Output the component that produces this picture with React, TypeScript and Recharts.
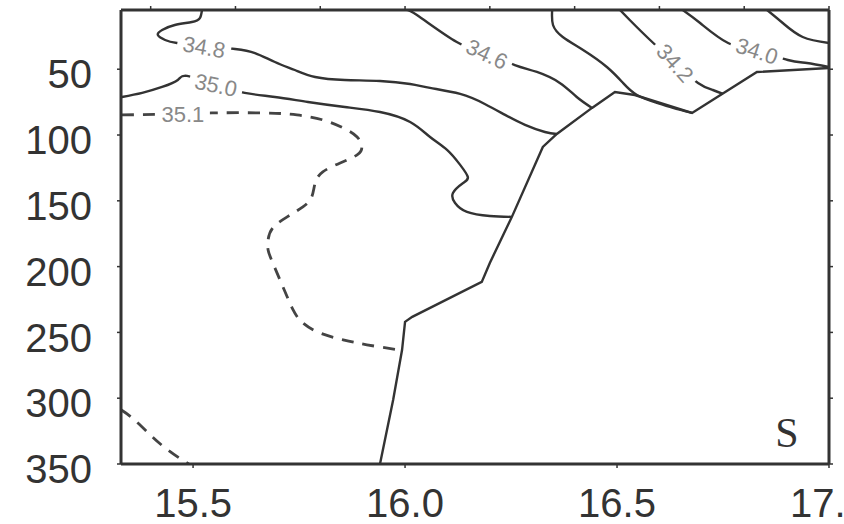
import React from "react";
import { ComposedChart, Line, Scatter, XAxis, YAxis, ReferenceDot } from "recharts";

const X_DOMAIN = [15.33, 17.0];
const DEPTH_DOMAIN = [5, 350];
const BOTTOM_TICKS = [15.5, 16.0, 16.5, 17.0];
const TOP_TICKS = [15.4, 15.6, 15.8, 16.0, 16.2, 16.4, 16.6, 16.8, 17.0];
const DEPTH_TICKS = [50, 100, 150, 200, 250, 300, 350];

// contour lines, [longitude, depth]
const S338: [number, number][] = [
  [16.854, 5], [16.891, 14.9], [16.938, 25.5], [17.0, 30.1],
];
const S340: [number, number][] = [
  [16.655, 5], [16.696, 14.9], [16.762, 30.1], [16.83, 36.1], [16.903, 43.0], [16.948, 45.3], [17.0, 48.3],
];
const S342: [number, number][] = [
  [16.507, 5], [16.53, 12.6], [16.578, 27.8], [16.637, 45.3], [16.691, 60.4], [16.726, 65.8], [16.75, 68.8],
];
const S344: [number, number][] = [
  [16.347, 5], [16.349, 16.4], [16.372, 25.5], [16.42, 35.4], [16.476, 48.3], [16.514, 60.4],
  [16.547, 69.6], [16.594, 75.6], [16.632, 79.4], [16.677, 83.2],
];
const S346: [number, number][] = [
  [16.0, 5], [16.028, 8.8], [16.122, 29.3], [16.193, 38.4], [16.259, 46.8], [16.311, 52.1],
  [16.365, 60.4], [16.405, 71.1], [16.441, 79.4],
];
const S348: [number, number][] = [
  [15.521, 5], [15.516, 11.1], [15.497, 14.1], [15.457, 16.4], [15.427, 20.2], [15.417, 24.0],
  [15.434, 27.8], [15.462, 30.1], [15.528, 32.3], [15.599, 34.6], [15.646, 37.7], [15.693, 44.5],
  [15.74, 50.6], [15.788, 55.9], [15.858, 58.2], [15.941, 58.9], [16.012, 61.2], [16.059, 64.2],
  [16.13, 68.8], [16.188, 76.4], [16.236, 84.7], [16.283, 92.3], [16.33, 97.7], [16.358, 99.2],
];
const S350: [number, number][] = [
  [15.332, 71.1], [15.38, 68.0], [15.427, 63.5], [15.464, 58.2], [15.486, 55.1], [15.554, 62.0],
  [15.622, 68.0], [15.693, 71.1], [15.771, 74.9], [15.858, 78.7], [15.941, 82.5], [16.012, 90.1],
  [16.059, 101.5], [16.099, 111.3], [16.13, 122.7], [16.148, 131.8], [16.137, 136.4], [16.113, 144.0],
  [16.118, 151.6], [16.146, 158.4], [16.2, 161.5], [16.252, 162.2],
];
const S351: [number, number][] = [
  [15.332, 84.7], [15.476, 84.0], [15.545, 83.2], [15.665, 83.2], [15.745, 84.7], [15.806, 88.5],
  [15.854, 94.6], [15.887, 101.5], [15.898, 109.1], [15.887, 115.1], [15.847, 121.2], [15.806, 128.0],
  [15.788, 136.4], [15.78, 147.0], [15.759, 154.6], [15.722, 162.2], [15.688, 170.6], [15.677, 179.7],
  [15.677, 187.3], [15.688, 197.2], [15.712, 215.4], [15.736, 232.9], [15.759, 242.8], [15.799, 250.4],
  [15.854, 255.6], [15.91, 259.4], [15.983, 263.2],
];
const S351_DEEP: [number, number][] = [
  [15.33, 308.8], [15.356, 314.9], [15.394, 326.3], [15.434, 337.7], [15.481, 348.3], [15.493, 349.8],
];
// edge of the data (bottom / shelf)
const BOUNDARY: [number, number][] = [
  [15.941, 349.8], [15.972, 301.2], [15.993, 263.2], [16.0, 242.0], [16.017, 238.2], [16.181, 211.6],
  [16.2, 197.2], [16.252, 162.2], [16.325, 109.1], [16.358, 99.2], [16.441, 79.4], [16.495, 67.3],
  [16.542, 69.6], [16.677, 83.2], [16.83, 52.1], [17.0, 49.1],
];

const LABELS = [
  { text: "34.8", x: 15.526, d: 33.1 },
  { text: "35.0", x: 15.554, d: 62.0 },
  { text: "35.1", x: 15.476, d: 84.0 },
  { text: "34.6", x: 16.193, d: 38.4 },
  { text: "34.2", x: 16.637, d: 45.3 },
  { text: "34.0", x: 16.83, d: 36.1 },
];
const LABEL_TILT: Record<string, number> = {
  "34.8": 10, "35.0": 12, "35.1": 0, "34.6": 25, "34.2": 48, "34.0": 18,
};

const toPts = (arr: [number, number][]) => arr.map(([x, d]) => ({ x, d }));

const FONT = "'Liberation Sans', Arial, sans-serif";
const INK = "#333";

const DepthTick = (props: any) => {
  const { x, y, payload } = props;
  return (
    <text x={x} y={y + 5} dy="0.355em" textAnchor="end" fontSize={40} fill={INK} fontFamily={FONT}>
      {payload.value}
    </text>
  );
};

const ContourLabel = (props: any) => {
  const { cx, cy, payload } = props;
  const tilt = LABEL_TILT[payload.text] || 0;
  return (
    <g transform={`rotate(${tilt} ${cx} ${cy})`}>
      <rect x={cx - 27} y={cy - 10} width={54} height={20} fill="#fff" />
      <text x={cx} y={cy} dy="0.355em" textAnchor="middle" fontSize={22} fill="#888" fontFamily={FONT}>
        {payload.text}
      </text>
    </g>
  );
};

const solid = [S338, S340, S342, S344, S346, S348, S350];

export default function App() {
  return (
    <div style={{ position: "absolute", left: 0, top: 0, background: "#fff" }}>
      <ComposedChart width={844} height={524} margin={{ top: 9, right: 0, bottom: 0, left: 0 }}>
        <XAxis
          xAxisId="b"
          dataKey="x"
          type="number"
          domain={X_DOMAIN}
          ticks={BOTTOM_TICKS}
          interval={0}
          height={60}
          tickSize={4}
          tickMargin={21}
          tickFormatter={(v: number) => v.toFixed(1)}
          tick={{ fontSize: 40, fill: INK, fontFamily: FONT }}
          axisLine={{ stroke: INK, strokeWidth: 3 }}
          tickLine={{ stroke: INK, strokeWidth: 1.5 }}
          allowDataOverflow
        />
        <XAxis
          xAxisId="t"
          orientation="top"
          dataKey="x"
          type="number"
          domain={X_DOMAIN}
          ticks={TOP_TICKS}
          interval={0}
          height={1}
          tickSize={4}
          tick={() => <g />}
          axisLine={{ stroke: INK, strokeWidth: 3 }}
          tickLine={{ stroke: INK, strokeWidth: 1.5 }}
          allowDataOverflow
        />
        <YAxis
          yAxisId="l"
          dataKey="d"
          type="number"
          domain={DEPTH_DOMAIN}
          reversed
          ticks={DEPTH_TICKS}
          interval={0}
          width={121}
          tickSize={4}
          tickMargin={25}
          tick={<DepthTick />}
          axisLine={{ stroke: INK, strokeWidth: 3 }}
          tickLine={{ stroke: INK, strokeWidth: 1.5 }}
          allowDataOverflow
        />
        <YAxis
          yAxisId="r"
          orientation="right"
          dataKey="d"
          type="number"
          domain={DEPTH_DOMAIN}
          reversed
          ticks={DEPTH_TICKS}
          interval={0}
          width={15}
          tickSize={4}
          tick={() => <g />}
          axisLine={{ stroke: INK, strokeWidth: 3 }}
          tickLine={{ stroke: INK, strokeWidth: 1.5 }}
          allowDataOverflow
        />
        <Line
          xAxisId="b"
          yAxisId="l"
          data={toPts(BOUNDARY)}
          dataKey="d"
          type="linear"
          stroke={INK}
          strokeWidth={2.4}
          dot={false}
          activeDot={false}
          isAnimationActive={false}
        />
        {solid.map((s, i) => (
          <Line
            key={`c${i}`}
            xAxisId="b"
            yAxisId="l"
            data={toPts(s)}
            dataKey="d"
            type="natural"
            stroke={INK}
            strokeWidth={2.4}
            dot={false}
            activeDot={false}
            isAnimationActive={false}
          />
        ))}
        {[S351, S351_DEEP].map((s, i) => (
          <Line
            key={`d${i}`}
            xAxisId="b"
            yAxisId="l"
            data={toPts(s)}
            dataKey="d"
            type="natural"
            stroke="#444"
            strokeWidth={2.8}
            strokeDasharray="12 9"
            dot={false}
            activeDot={false}
            isAnimationActive={false}
          />
        ))}
        <Scatter
          xAxisId="b"
          yAxisId="l"
          data={LABELS}
          dataKey="d"
          shape={<ContourLabel />}
          isAnimationActive={false}
        />
        <ReferenceDot
          xAxisId="b"
          yAxisId="l"
          x={16.901}
          y={336.9}
          r={0}
          shape={(p: any) => (
            <text x={p.cx} y={p.cy} textAnchor="middle" fontSize={42} fill={INK} fontFamily="'Liberation Serif', 'Times New Roman', serif">
              S
            </text>
          )}
        />
      </ComposedChart>
    </div>
  );
}
